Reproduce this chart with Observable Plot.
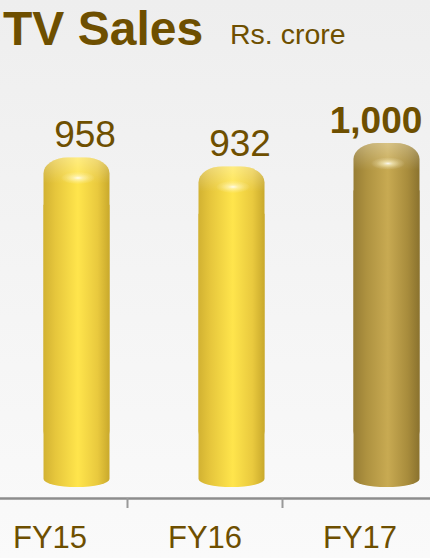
<!DOCTYPE html>
<html>
<head>
<meta charset="utf-8">
<script src="https://cdn.jsdelivr.net/npm/d3@7"></script>
<script src="https://cdn.jsdelivr.net/npm/@observablehq/plot@0.6"></script>
<style>
  html, body { margin: 0; padding: 0; }
  body {
    width: 430px; height: 558px; overflow: hidden;
    background: linear-gradient(to bottom, #eeeeee 0%, #f3f3f3 40%, #fafafa 100%);
    font-family: "Liberation Sans", Arial, sans-serif;
  }
  #header { height: 70px; position: relative; color: #6e4f00; }
  #title { position: absolute; left: 3px; top: 1px; font-size: 48px; font-weight: bold; line-height: 56px; }
  #unit { position: absolute; left: 230px; top: 14px; font-size: 28.5px; line-height: 40px; }
  #chart svg { display: block; }
</style>
</head>
<body>
<svg width="0" height="0" style="position:absolute">
  <defs>
    <linearGradient id="yellow" x1="0" x2="1" y1="0" y2="0">
      <stop offset="0" stop-color="#d2b232"/>
      <stop offset="0.18" stop-color="#e6c63c"/>
      <stop offset="0.52" stop-color="#ffe54c"/>
      <stop offset="0.82" stop-color="#e9c93e"/>
      <stop offset="1" stop-color="#c9a92c"/>
    </linearGradient>
    <linearGradient id="gold" x1="0" x2="1" y1="0" y2="0">
      <stop offset="0" stop-color="#977d34"/>
      <stop offset="0.2" stop-color="#ae9240"/>
      <stop offset="0.52" stop-color="#c8aa52"/>
      <stop offset="0.82" stop-color="#a88c3c"/>
      <stop offset="1" stop-color="#8a722e"/>
    </linearGradient>
    <radialGradient id="hl" cx="0.5" cy="0.5" r="0.5" gradientTransform="translate(0,0.32) scale(1,0.36)">
      <stop offset="0" stop-color="#ffffff" stop-opacity="0.9"/>
      <stop offset="0.3" stop-color="#fff8d0" stop-opacity="0.6"/>
      <stop offset="0.7" stop-color="#fff8d0" stop-opacity="0.2"/>
      <stop offset="1" stop-color="#ffffff" stop-opacity="0"/>
    </radialGradient>
    <linearGradient id="cap" x1="0" x2="0" y1="0" y2="1">
      <stop offset="0" stop-color="#ffffff" stop-opacity="0.3"/>
      <stop offset="0.06" stop-color="#ffffff" stop-opacity="0.1"/>
      <stop offset="0.09" stop-color="#ffffff" stop-opacity="0"/>
      <stop offset="1" stop-color="#ffffff" stop-opacity="0"/>
    </linearGradient>
  </defs>
</svg>
<div id="header"><span id="title">TV Sales</span><span id="unit">Rs. crore</span></div>
<div id="chart"></div>
<script>
const categories = ["FY15", "FY16", "FY17"];
const sales = [958, 932, 1000];
const salesLabels = ["958", "932", "1,000"];
const highlighted = "FY17";

const data = categories.map((c, i) => ({cat: c, value: sales[i], label: salesLabels[i]}));
const normal = d => d.cat !== highlighted;
const special = d => d.cat === highlighted;

const brown = "#6e4f00";
const barDx = 27;
const inset = 44.5;

function cylinder(filter, fill) {
  return [
    Plot.barY(data, {filter, x: "cat", y: "value", dx: barDx, insetLeft: inset, insetRight: inset,
      insetBottom: 40, rx: 24, ry: 16, fill}),
    Plot.barY(data, {filter, x: "cat", y: "value", dx: barDx, insetLeft: inset, insetRight: inset,
      insetTop: 40, rx: 33, ry: 8, fill}),
    Plot.barY(data, {filter, x: "cat", y: "value", dx: barDx, insetLeft: inset, insetRight: inset,
      insetBottom: 40, rx: 24, ry: 16, fill: "url(#cap)"}),
    Plot.dot(data, {filter, x: "cat", y: "value", dx: barDx + 1, dy: 20, r: 17, fill: "url(#hl)", stroke: "none"})
  ];
}

const chart = Plot.plot({
  width: 430,
  height: 488,
  marginLeft: 0,
  marginRight: 0,
  marginTop: 0,
  marginBottom: 60,
  x: {domain: categories, range: [-28, 437], padding: 0, axis: null},
  y: {domain: [0, 1000], range: [417, 73], axis: null},
  style: {background: "transparent", overflow: "visible", fontFamily: "Liberation Sans, Arial, sans-serif"},
  marks: [
    ...cylinder(normal, "url(#yellow)"),
    ...cylinder(special, "url(#gold)"),
    Plot.text(data, {filter: normal, x: "cat", y: "value", text: "label", dx: barDx + 8, dy: -37,
      lineAnchor: "top", fontSize: 37, fill: brown}),
    Plot.text(data, {filter: special, x: "cat", y: "value", text: "label", dx: barDx - 11, dy: -37,
      lineAnchor: "top", fontSize: 37, fontWeight: "bold", fill: brown}),
    Plot.ruleY([0], {dy: 11, stroke: "#8c8c8c", strokeWidth: 2.3}),
    Plot.ruleX(categories.slice(1), {x: d => d, dx: -77.5, insetTop: 428, insetBottom: -10,
      stroke: "#999999", strokeWidth: 2}),
    Plot.text(categories, {x: d => d, frameAnchor: "bottom", dy: 27, lineAnchor: "top",
      fontSize: 31, fill: brown})
  ]
});
document.getElementById("chart").appendChild(chart);
</script>
</body>
</html>
